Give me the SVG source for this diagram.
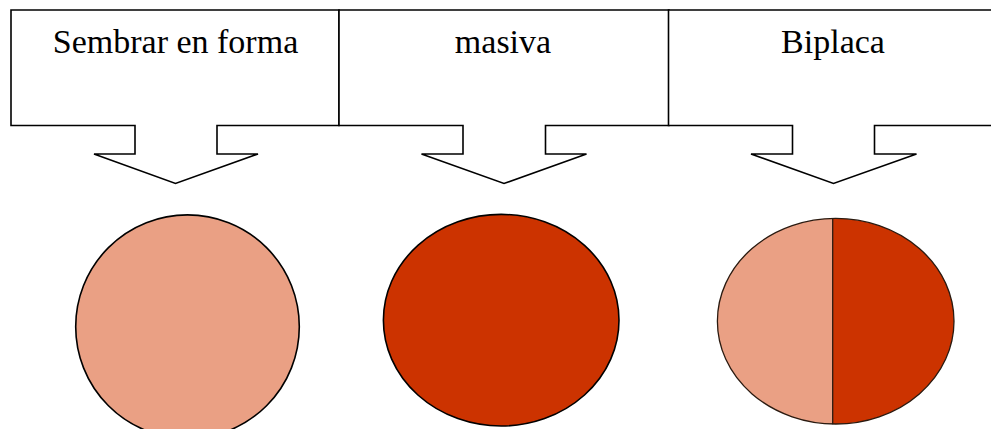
<svg xmlns="http://www.w3.org/2000/svg" width="991" height="429" viewBox="0 0 991 429">
  <style>
    .callout { fill: #ffffff; stroke: #000000; stroke-width: 1.6; stroke-linejoin: miter; }
    .label { font-family: "Liberation Serif", "Times New Roman", serif; font-size: 34px; fill: #000000; text-anchor: middle; }
    .light { fill: #EAA084; }
    .dark { fill: #CC3300; }
    .ring { fill: none; stroke: #000000; stroke-width: 1.6; }
    .ring-thin { fill: none; stroke: #2a1a10; stroke-width: 1.3; }
  </style>

  <!-- Down-arrow callouts -->
  <g id="callout-sembrar">
    <path class="callout" d="M11,10 H339 V125.5 H217 V154 H258 L175.5,183.5 L94,154 H135 V125.5 H11 Z"/>
    <text class="label" x="175.5" y="53">Sembrar en forma</text>
  </g>
  <g id="callout-masiva">
    <path class="callout" d="M339,10 H669 V125.5 H545.5 V154 H586.5 L504,183.5 L421.5,154 H463 V125.5 H339 Z"/>
    <text class="label" x="503" y="53">masiva</text>
  </g>
  <g id="callout-biplaca">
    <path class="callout" d="M668.5,10 H999 V125.5 H874.5 V154 H916.5 L833.5,183.5 L751,154 H792.5 V125.5 H668.5 Z"/>
    <text class="label" x="833" y="53">Biplaca</text>
  </g>

  <g id="connectors"></g>

  <!-- Plates -->
  <g id="plate-light">
    <circle class="light" cx="187.5" cy="326.7" r="111.8"/>
    <circle class="ring" cx="187.5" cy="326.7" r="111.8"/>
  </g>
  <g id="plate-dark">
    <ellipse class="dark" cx="501.2" cy="320.2" rx="117.8" ry="105.8"/>
    <ellipse class="ring" cx="501.2" cy="320.2" rx="117.8" ry="105.8"/>
  </g>
  <g id="plate-split">
    <clipPath id="split-left"><rect x="700" y="200" width="132.7" height="229"/></clipPath>
    <clipPath id="split-right"><rect x="832.7" y="200" width="150" height="229"/></clipPath>
    <ellipse class="light" clip-path="url(#split-left)" cx="835.7" cy="321.2" rx="118.3" ry="102.8"/>
    <ellipse class="dark" clip-path="url(#split-right)" cx="835.7" cy="321.2" rx="118.3" ry="102.8"/>
    <ellipse class="ring-thin" cx="835.7" cy="321.2" rx="118.3" ry="102.8"/>
    <line class="ring-thin" x1="832.7" y1="218" x2="832.7" y2="424.3" stroke-width="1.8"/>
  </g>
</svg>
